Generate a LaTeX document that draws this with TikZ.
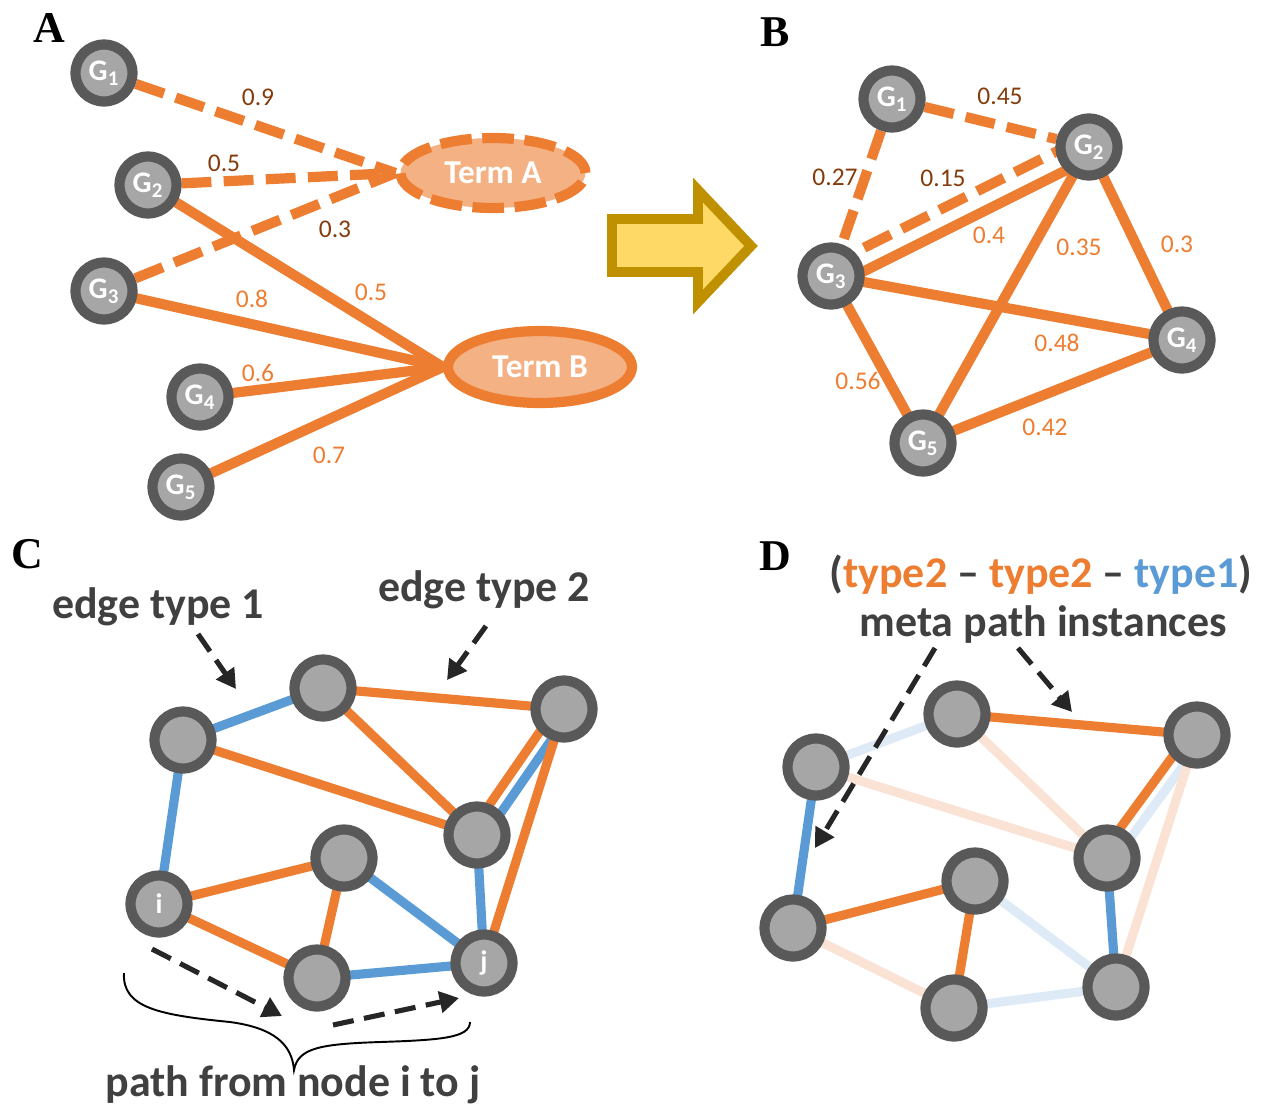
\documentclass[tikz,border=0pt]{standalone}
\usepackage{fontspec}
\setmainfont{Carlito}
\newfontfamily\serifbold{Liberation Serif}
\usetikzlibrary{shapes.geometric, arrows.meta, calc, backgrounds}
\definecolor{orng}{HTML}{ED7D31}
\definecolor{blu}{HTML}{5B9BD5}
\definecolor{ringc}{HTML}{595959}
\definecolor{ngray}{HTML}{A6A6A6}
\definecolor{brwn}{HTML}{843C0C}
\definecolor{txt}{HTML}{404040}
\definecolor{lorng}{HTML}{FAE3D4}
\definecolor{lblu}{HTML}{DEEBF7}
\definecolor{termfill}{HTML}{F4B183}
\definecolor{arrfill}{HTML}{FFD966}
\definecolor{arrdraw}{HTML}{BF9000}
\definecolor{blk}{HTML}{262626}
\begin{document}
\begin{tikzpicture}[x=0.02cm, y=-0.02cm,
  gnode/.style={circle, draw=ringc, fill=ngray, line width=5.8pt, minimum size=1.14cm, inner sep=0pt, text=white, font=\bfseries\fontsize{17}{17}\selectfont},
  term/.style={ellipse, draw=orng, fill=termfill, line width=5.8pt, inner sep=0pt, text=white, font=\bfseries\fontsize{19}{19}\selectfont},
  wA/.style={draw=orng, line width=5.8pt},
  dA/.style={wA, dash pattern=on 17pt off 7pt},
  num/.style={font=\fontsize{14.5}{14.5}\selectfont, text=orng, inner sep=0pt},
  bnum/.style={num, text=brwn},
  eO/.style={draw=orng, line width=5.2pt},
  eB/.style={draw=blu, line width=5.2pt},
  eLO/.style={draw=lorng, line width=5.2pt},
  eLB/.style={draw=lblu, line width=5.2pt},
  ptr/.style={draw=blk, line width=2.9pt, dash pattern=on 12pt off 6pt, -{Triangle[length=11pt,width=12pt]}},
  big/.style={font=\bfseries\fontsize{25}{25}\selectfont, text=txt, inner sep=0pt},
  plabel/.style={font=\serifbold\bfseries\fontsize{25}{25}\selectfont, inner sep=0pt},
]
\useasboundingbox (0,0) rectangle (1266,1106);

% ---------------- Panel A ----------------
\node[plabel] (labA) at (49,28) {A};
\node[gnode] (a1) at (104,73) {G\textsubscript{1}};
\node[gnode] (a2) at (148,185) {G\textsubscript{2}};
\node[gnode] (a3) at (104,291) {G\textsubscript{3}};
\node[gnode] (a4) at (200,397) {G\textsubscript{4}};
\node[gnode] (a5) at (181,487) {G\textsubscript{5}};
\node[term, dash pattern=on 18pt off 6pt, minimum width=3.7cm, minimum height=1.4cm] (ta) at (493,173) {Term A};
\node[term, minimum width=3.68cm, minimum height=1.44cm] (tb) at (540,367) {Term B};
\begin{scope}[on background layer]
  \draw[dA] (a1) -- (ta.west);
  \draw[dA] (a2) -- (ta.west);
  \draw[dA] (a3) -- (ta.west);
  \draw[wA] (a2.center) -- (tb.west);
  \draw[wA] (a3.center) -- (tb.west);
  \draw[wA] (a4.center) -- (tb.west);
  \draw[wA] (a5.center) -- (tb.west);
\end{scope}
\node[bnum] (n09) at (258,97) {0.9};
\node[bnum] (n05a) at (224,163) {0.5};
\node[bnum] (n03) at (335,229) {0.3};
\node[num] (n05b) at (371,292) {0.5};
\node[num] (n08) at (252,299) {0.8};
\node[num] (n06) at (258,373) {0.6};
\node[num] (n07) at (329,455) {0.7};

% big arrow
\draw[fill=arrfill, draw=arrdraw, line width=5.6pt] (612,219) -- (698,219) -- (698,190) -- (751,246) -- (698,302) -- (698,272) -- (612,272) -- cycle;

% ---------------- Panel B ----------------
\node[plabel] (labB) at (775,32) {B};
\node[gnode] (b1) at (892,99) {G\textsubscript{1}};
\node[gnode] (b2) at (1089,147) {G\textsubscript{2}};
\node[gnode] (b3) at (831,276) {G\textsubscript{3}};
\node[gnode] (b4) at (1182,340) {G\textsubscript{4}};
\node[gnode] (b5) at (923,443) {G\textsubscript{5}};
\begin{scope}[on background layer]
  \draw[dA] (b1) -- (b2);
  \draw[dA] (b1) -- (b3);
  \draw[dA] ($(b3.center)!6pt!90:(b2.center)$) -- ($(b2.center)!6pt!-90:(b3.center)$);
  \draw[wA] ($(b3.center)!6pt!-90:(b2.center)$) -- ($(b2.center)!6pt!90:(b3.center)$);
  \draw[wA] (b2.center) -- (b5.center);
  \draw[wA] (b2.center) -- (b4.center);
  \draw[wA] (b3.center) -- (b4.center);
  \draw[wA] (b3.center) -- (b5.center);
  \draw[wA] (b4.center) -- (b5.center);
\end{scope}
\node[bnum] (m45) at (1000,96) {0.45};
\node[bnum] (m27) at (835,177) {0.27};
\node[bnum] (m15) at (943,178) {0.15};
\node[num] (m4) at (989,235) {0.4};
\node[num] (m35) at (1079,247) {0.35};
\node[num] (m3) at (1177,244) {0.3};
\node[num] (m48) at (1057,343) {0.48};
\node[num] (m56) at (858,381) {0.56};
\node[num] (m42) at (1045,427) {0.42};

% ---------------- Panel C ----------------
\node[plabel] (labC) at (27,554) {C};
\node[big] (et1) at (158,607) {edge type 1};
\node[big] (et2) at (484,590) {edge type 2};
\node[gnode] (ca) at (183,740) {};
\node[gnode] (cb) at (323,688) {};
\node[gnode] (cc) at (564,709) {};
\node[gnode] (cd) at (477,835) {};
\node[gnode] (ce) at (344,858) {};
\node[gnode, font=\bfseries\fontsize{16}{16}\selectfont] (ci) at (159,904) {i};
\node[gnode] (cf) at (317,978) {};
\node[gnode, font=\bfseries\fontsize{16}{16}\selectfont] (cj) at (484,963) {j};
\begin{scope}[on background layer]
  \draw[eB] (ca.center) -- (cb.center);
  \draw[eO] (cb.center) -- (cc.center);
  \draw[eO] (cb.center) -- (cd.center);
  \draw[eO] (ca.center) -- (cd.center);
  \draw[eB] (ca.center) -- (ci.center);
  \draw[eO] ($(cc.center)!4pt!-90:(cd.center)$) -- ($(cd.center)!4pt!90:(cc.center)$);
  \draw[eB] ($(cc.center)!4pt!90:(cd.center)$) -- ($(cd.center)!4pt!-90:(cc.center)$);
  \draw[eO] (cc.center) -- (cj.center);
  \draw[eB] (cd.center) -- (cj.center);
  \draw[eO] (ci.center) -- (ce.center);
  \draw[eO] (ce.center) -- (cf.center);
  \draw[eB] (ce.center) -- (cj.center);
  \draw[eO] (ci.center) -- (cf.center);
  \draw[eB] (cf.center) -- (cj.center);
\end{scope}
\coordinate (p1s) at (198,634); \coordinate (p1e) at (236,689);
\coordinate (p2s) at (486,626); \coordinate (p2e) at (447,680);
\coordinate (p3s) at (152,949); \coordinate (p3e) at (282,1016);
\coordinate (p4s) at (333,1025); \coordinate (p4e) at (459,998);
\draw[ptr] (p1s) -- (p1e);
\draw[ptr] (p2s) -- (p2e);
\draw[ptr] (p3s) -- (p3e);
\draw[ptr] (p4s) -- (p4e);
\draw[line width=1.1pt, black] (124,973) .. controls (122,1008) and (160,1015) .. (230,1022)
  .. controls (275,1028) and (292,1045) .. (294,1070)
  .. controls (298,1048) and (320,1044) .. (380,1042)
  .. controls (440,1040) and (470,1038) .. (470,1022);
\node[big] (pth) at (293,1085) {path from node i to j};

% ---------------- Panel D ----------------
\node[plabel] (labD) at (775,556) {D};
\node[big] (typ) at (1041,575) {(\textcolor{orng}{type2} – \textcolor{orng}{type2} – \textcolor{blu}{type1})};
\node[big] (meta) at (1043,625) {meta path instances};
\node[gnode] (dp) at (816,767) {};
\node[gnode] (dq) at (957,714) {};
\node[gnode] (dr) at (1197,735) {};
\node[gnode] (ds) at (1107,858) {};
\node[gnode] (dt) at (975,881) {};
\node[gnode] (du) at (793,928) {};
\node[gnode] (dv) at (954,1008) {};
\node[gnode] (dw) at (1116,987) {};
\begin{scope}[on background layer]
  \draw[eLB] (dp.center) -- (dq.center);
  \draw[eO] (dq.center) -- (dr.center);
  \draw[eLO] (dq.center) -- (ds.center);
  \draw[eLO] (dp.center) -- (ds.center);
  \draw[eO] ($(dr.center)!4pt!-90:(ds.center)$) -- ($(ds.center)!4pt!90:(dr.center)$);
  \draw[eLB] ($(dr.center)!4pt!90:(ds.center)$) -- ($(ds.center)!4pt!-90:(dr.center)$);
  \draw[eLO] (dr.center) -- (dw.center);
  \draw[eB] (dp.center) -- (du.center);
  \draw[eO] (du.center) -- (dt.center);
  \draw[eO] (dt.center) -- (dv.center);
  \draw[eLB] (dt.center) -- (dw.center);
  \draw[eLO] (du.center) -- (dv.center);
  \draw[eLB] (dv.center) -- (dw.center);
  \draw[eB] (ds.center) -- (dw.center);
\end{scope}
\coordinate (q1s) at (935,648); \coordinate (q1e) at (815,848);
\coordinate (q2s) at (1018,648); \coordinate (q2e) at (1072,712);
\draw[ptr] (q1s) -- (q1e);
\draw[ptr] (q2s) -- (q2e);
\end{tikzpicture}
\end{document}
